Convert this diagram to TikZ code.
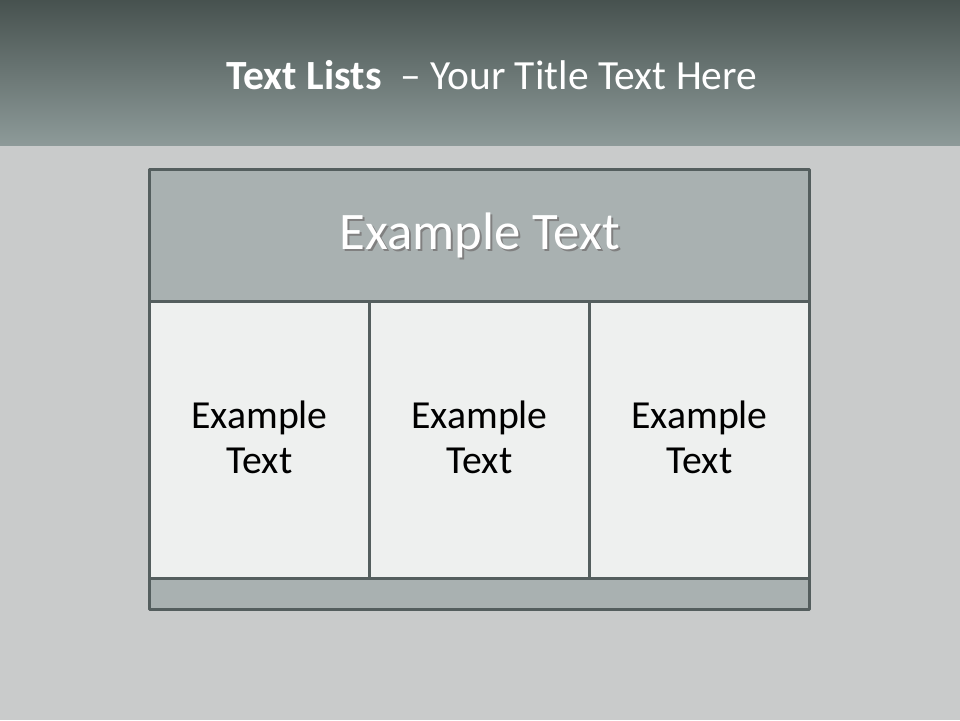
\documentclass[tikz,border=0pt]{standalone}
\usepackage{fontspec}
\setmainfont{Carlito}
\usetikzlibrary{positioning}
\definecolor{bandtop}{HTML}{47524F}
\definecolor{bandbot}{HTML}{8D9A99}
\definecolor{backgr}{HTML}{C9CBCB}
\definecolor{frameline}{HTML}{545E5E}
\definecolor{headfill}{HTML}{A9B1B1}
\definecolor{cellfill}{HTML}{EEF0EF}
\tikzset{
  tablebox/.style={draw=frameline, line width=0.85pt, inner sep=0pt, anchor=north west},
  cellbox/.style={tablebox, fill=cellfill, minimum width=2.2cm, minimum height=2.77cm},
  celltext/.style={align=center, font=\fontsize{11.3pt}{12.8pt}\selectfont, text=black}
}
\begin{document}
\begin{tikzpicture}[x=0.01cm, y=-0.01cm, line join=round]
\useasboundingbox (0,0) rectangle (960,720);
% background and title band
\fill[backgr] (0,0) rectangle (960,720);
\shade[top color=bandtop, bottom color=bandbot] (0,0) rectangle (960,145);
\node[text=white, font=\fontsize{11.8pt}{13pt}\selectfont] (title) at (492,75)
  {\textbf{Text Lists}\ \ – Your Title Text Here};
% table
\node[tablebox, fill=headfill, minimum width=6.6cm, minimum height=1.32cm] (head) at (148,168) {};
\node[cellbox] (cellA) at (148,300) {};
\node[cellbox] (cellB) at (368,300) {};
\node[cellbox] (cellC) at (588,300) {};
\node[tablebox, fill=headfill, minimum width=6.6cm, minimum height=0.31cm] (foot) at (148,577) {};
% cell texts
\node[celltext] (textA) at ([yshift=0.85pt]cellA.center) {Example\\Text};
\node[celltext] (textB) at ([yshift=0.85pt]cellB.center) {Example\\Text};
\node[celltext] (textC) at ([yshift=0.85pt]cellC.center) {Example\\Text};
% header text with shadow
\node[text=black!50, font=\fontsize{15pt}{17pt}\selectfont] (headshadow) at ([xshift=0.6pt,yshift=-0.6pt]head.center) {Example Text};
\node[text=white, font=\fontsize{15pt}{17pt}\selectfont] (headtext) at (head.center) {Example Text};
\end{tikzpicture}
\end{document}
